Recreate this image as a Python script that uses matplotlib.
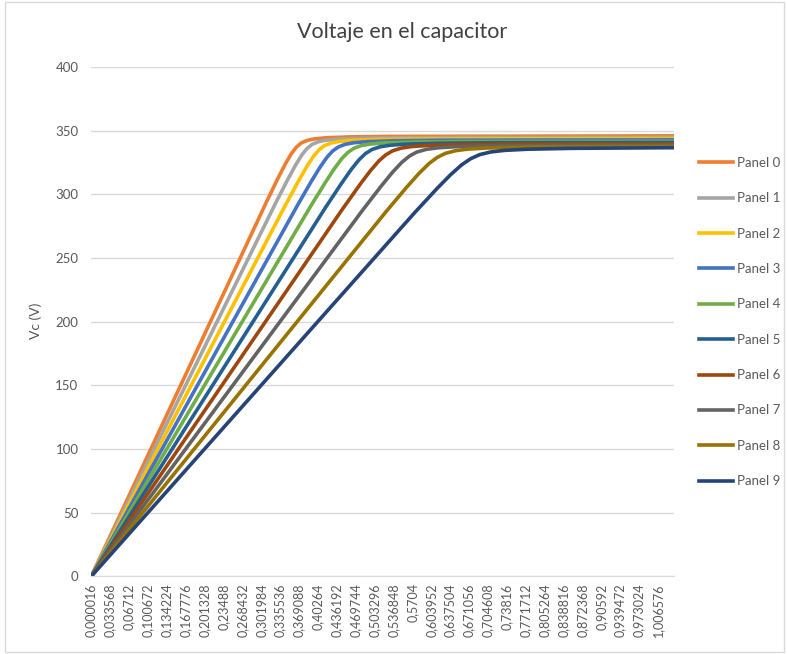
import matplotlib.pyplot as plt
from matplotlib.patches import Rectangle

plt.rcParams['font.family'] = ['Lato', 'DejaVu Sans']

# Etiquetas del eje de tiempo (s)
tick_labels = ['0,000016', '0,033568', '0,06712', '0,100672', '0,134224', '0,167776',
               '0,201328', '0,23488', '0,268432', '0,301984', '0,335536', '0,369088',
               '0,40264', '0,436192', '0,469744', '0,503296', '0,536848', '0,5704',
               '0,603952', '0,637504', '0,671056', '0,704608', '0,73816', '0,771712',
               '0,805264', '0,838816', '0,872368', '0,90592', '0,939472', '0,973024',
               '1,006576']

# Voltaje en el capacitor por panel: tiempo (s) y Vc (V)
p0_t = [0.000016, 0.3116, 0.3326, 0.3453, 0.3558, 0.3642, 0.3726, 0.3832, 0.3958, 0.4168, 0.4589, 0.5326, 1.0366]
p0_v = [0, 294.4, 313.5, 324.3, 332.2, 337.0, 340.2, 342.3, 343.5, 344.4, 345.1, 345.5, 345.9]
p1_t = [0.000016, 0.3278, 0.3500, 0.3633, 0.3744, 0.3833, 0.3922, 0.4033, 0.4167, 0.4389, 0.4833, 0.5611, 1.0366]
p1_v = [0, 293.4, 312.5, 323.3, 331.2, 336.0, 339.2, 341.3, 342.5, 343.4, 344.1, 344.5, 344.8]
p2_t = [0.000016, 0.3459, 0.3694, 0.3835, 0.3953, 0.4047, 0.4141, 0.4259, 0.4400, 0.4635, 0.5106, 0.5929, 1.0366]
p2_v = [0, 292.4, 311.5, 322.3, 330.2, 335.0, 338.2, 340.3, 341.5, 342.4, 343.1, 343.5, 343.8]
p3_t = [0.000016, 0.3663, 0.3913, 0.4063, 0.4188, 0.4288, 0.4388, 0.4513, 0.4663, 0.4913, 0.5413, 0.6288, 1.0366]
p3_v = [0, 291.4, 310.5, 321.3, 329.2, 334.0, 337.2, 339.3, 340.5, 341.4, 342.1, 342.5, 342.8]
p4_t = [0.000016, 0.3893, 0.4160, 0.4320, 0.4453, 0.4560, 0.4667, 0.4800, 0.4960, 0.5227, 0.5760, 0.6693, 1.0366]
p4_v = [0, 290.4, 309.5, 320.3, 328.2, 333.0, 336.2, 338.3, 339.5, 340.4, 341.1, 341.5, 341.7]
p5_t = [0.000016, 0.4157, 0.4443, 0.4614, 0.4757, 0.4871, 0.4986, 0.5129, 0.5300, 0.5586, 0.6157, 0.7157, 1.0366]
p5_v = [0, 289.4, 308.5, 319.3, 327.2, 332.0, 335.2, 337.3, 338.5, 339.4, 340.1, 340.5, 340.7]
p6_t = [0.000016, 0.4462, 0.4769, 0.4954, 0.5108, 0.5231, 0.5354, 0.5508, 0.5692, 0.6000, 0.6615, 0.7692, 1.0366]
p6_v = [0, 288.4, 307.5, 318.3, 326.2, 331.0, 334.2, 336.3, 337.5, 338.4, 339.1, 339.5, 339.6]
p7_t = [0.000016, 0.4817, 0.5150, 0.5350, 0.5517, 0.5650, 0.5783, 0.5950, 0.6150, 0.6483, 0.7150, 0.8317, 1.0366]
p7_v = [0, 287.4, 306.5, 317.3, 325.2, 330.0, 333.2, 335.3, 336.5, 337.4, 338.1, 338.5, 338.6]
p8_t = [0.000016, 0.5236, 0.5600, 0.5818, 0.6000, 0.6145, 0.6291, 0.6473, 0.6691, 0.7055, 0.7782, 0.9055, 1.0366]
p8_v = [0, 286.4, 305.5, 316.3, 324.2, 329.0, 332.2, 334.3, 335.5, 336.4, 337.1, 337.5, 337.6]
p9_t = [0.000016, 0.5740, 0.6140, 0.6380, 0.6580, 0.6740, 0.6900, 0.7100, 0.7340, 0.7740, 0.8540, 0.9940, 1.0366]
p9_v = [0, 285.4, 304.5, 315.3, 323.2, 328.0, 331.2, 333.3, 334.5, 335.4, 336.1, 336.5, 336.6]

names = ['Panel 0', 'Panel 1', 'Panel 2', 'Panel 3', 'Panel 4',
         'Panel 5', 'Panel 6', 'Panel 7', 'Panel 8', 'Panel 9']
colors = ['#ED7D31', '#A5A5A5', '#FFC000', '#4472C4', '#70AD47',
          '#255E91', '#9E480E', '#636363', '#997300', '#264478']
series = [(p0_t, p0_v), (p1_t, p1_v), (p2_t, p2_v), (p3_t, p3_v), (p4_t, p4_v),
          (p5_t, p5_v), (p6_t, p6_v), (p7_t, p7_v), (p8_t, p8_v), (p9_t, p9_v)]

fig = plt.figure(figsize=(7.87, 6.54), dpi=100)
ax = fig.add_axes([0.1156, 0.1187, 0.7408, 0.7789])

lines = []
for (t, v), name, c in zip(series, names, colors):
    ln, = ax.plot(t, v, color=c, lw=2.6, label=name, solid_joinstyle='round')
    lines.append(ln)

ax.set_ylim(0, 400)
ax.set_yticks(range(0, 401, 50))
ax.set_xlim(-0.0005, 1.035)
ticks = [float(s.replace(',', '.')) for s in tick_labels]
ax.set_xticks(ticks)
ax.set_xticklabels(tick_labels, rotation=90, fontsize=9, color='#595959')
ax.tick_params(axis='both', length=0)
ax.tick_params(axis='y', labelsize=9.5, labelcolor='#595959', pad=9)
ax.tick_params(axis='x', pad=5)

ax.grid(axis='y', color='#d9d9d9', lw=1)
ax.set_axisbelow(True)
for side in ['top', 'right', 'left']:
    ax.spines[side].set_visible(False)
ax.spines['bottom'].set_color('#d9d9d9')

fig.text(0.511, 0.951, 'Voltaje en el capacitor', ha='center', va='center',
         fontsize=15.5, color='#404040')
fig.text(0.046, 0.51, 'Vc (V)', rotation=90, ha='center', va='center',
         fontsize=10, color='#595959')

fig.legend(handles=lines, loc='upper left', bbox_to_anchor=(0.881, 0.768),
           frameon=False, fontsize=9.5, labelcolor='#595959', handlelength=2.6,
           handletextpad=0.3, labelspacing=1.77, borderaxespad=0)

# Borde del área del gráfico
fig.patches.append(Rectangle((0.006, 0.003), 0.99, 0.994, transform=fig.transFigure,
                             fill=False, edgecolor='#d9d9d9', lw=1))

fig.savefig('out.png', dpi=100)
